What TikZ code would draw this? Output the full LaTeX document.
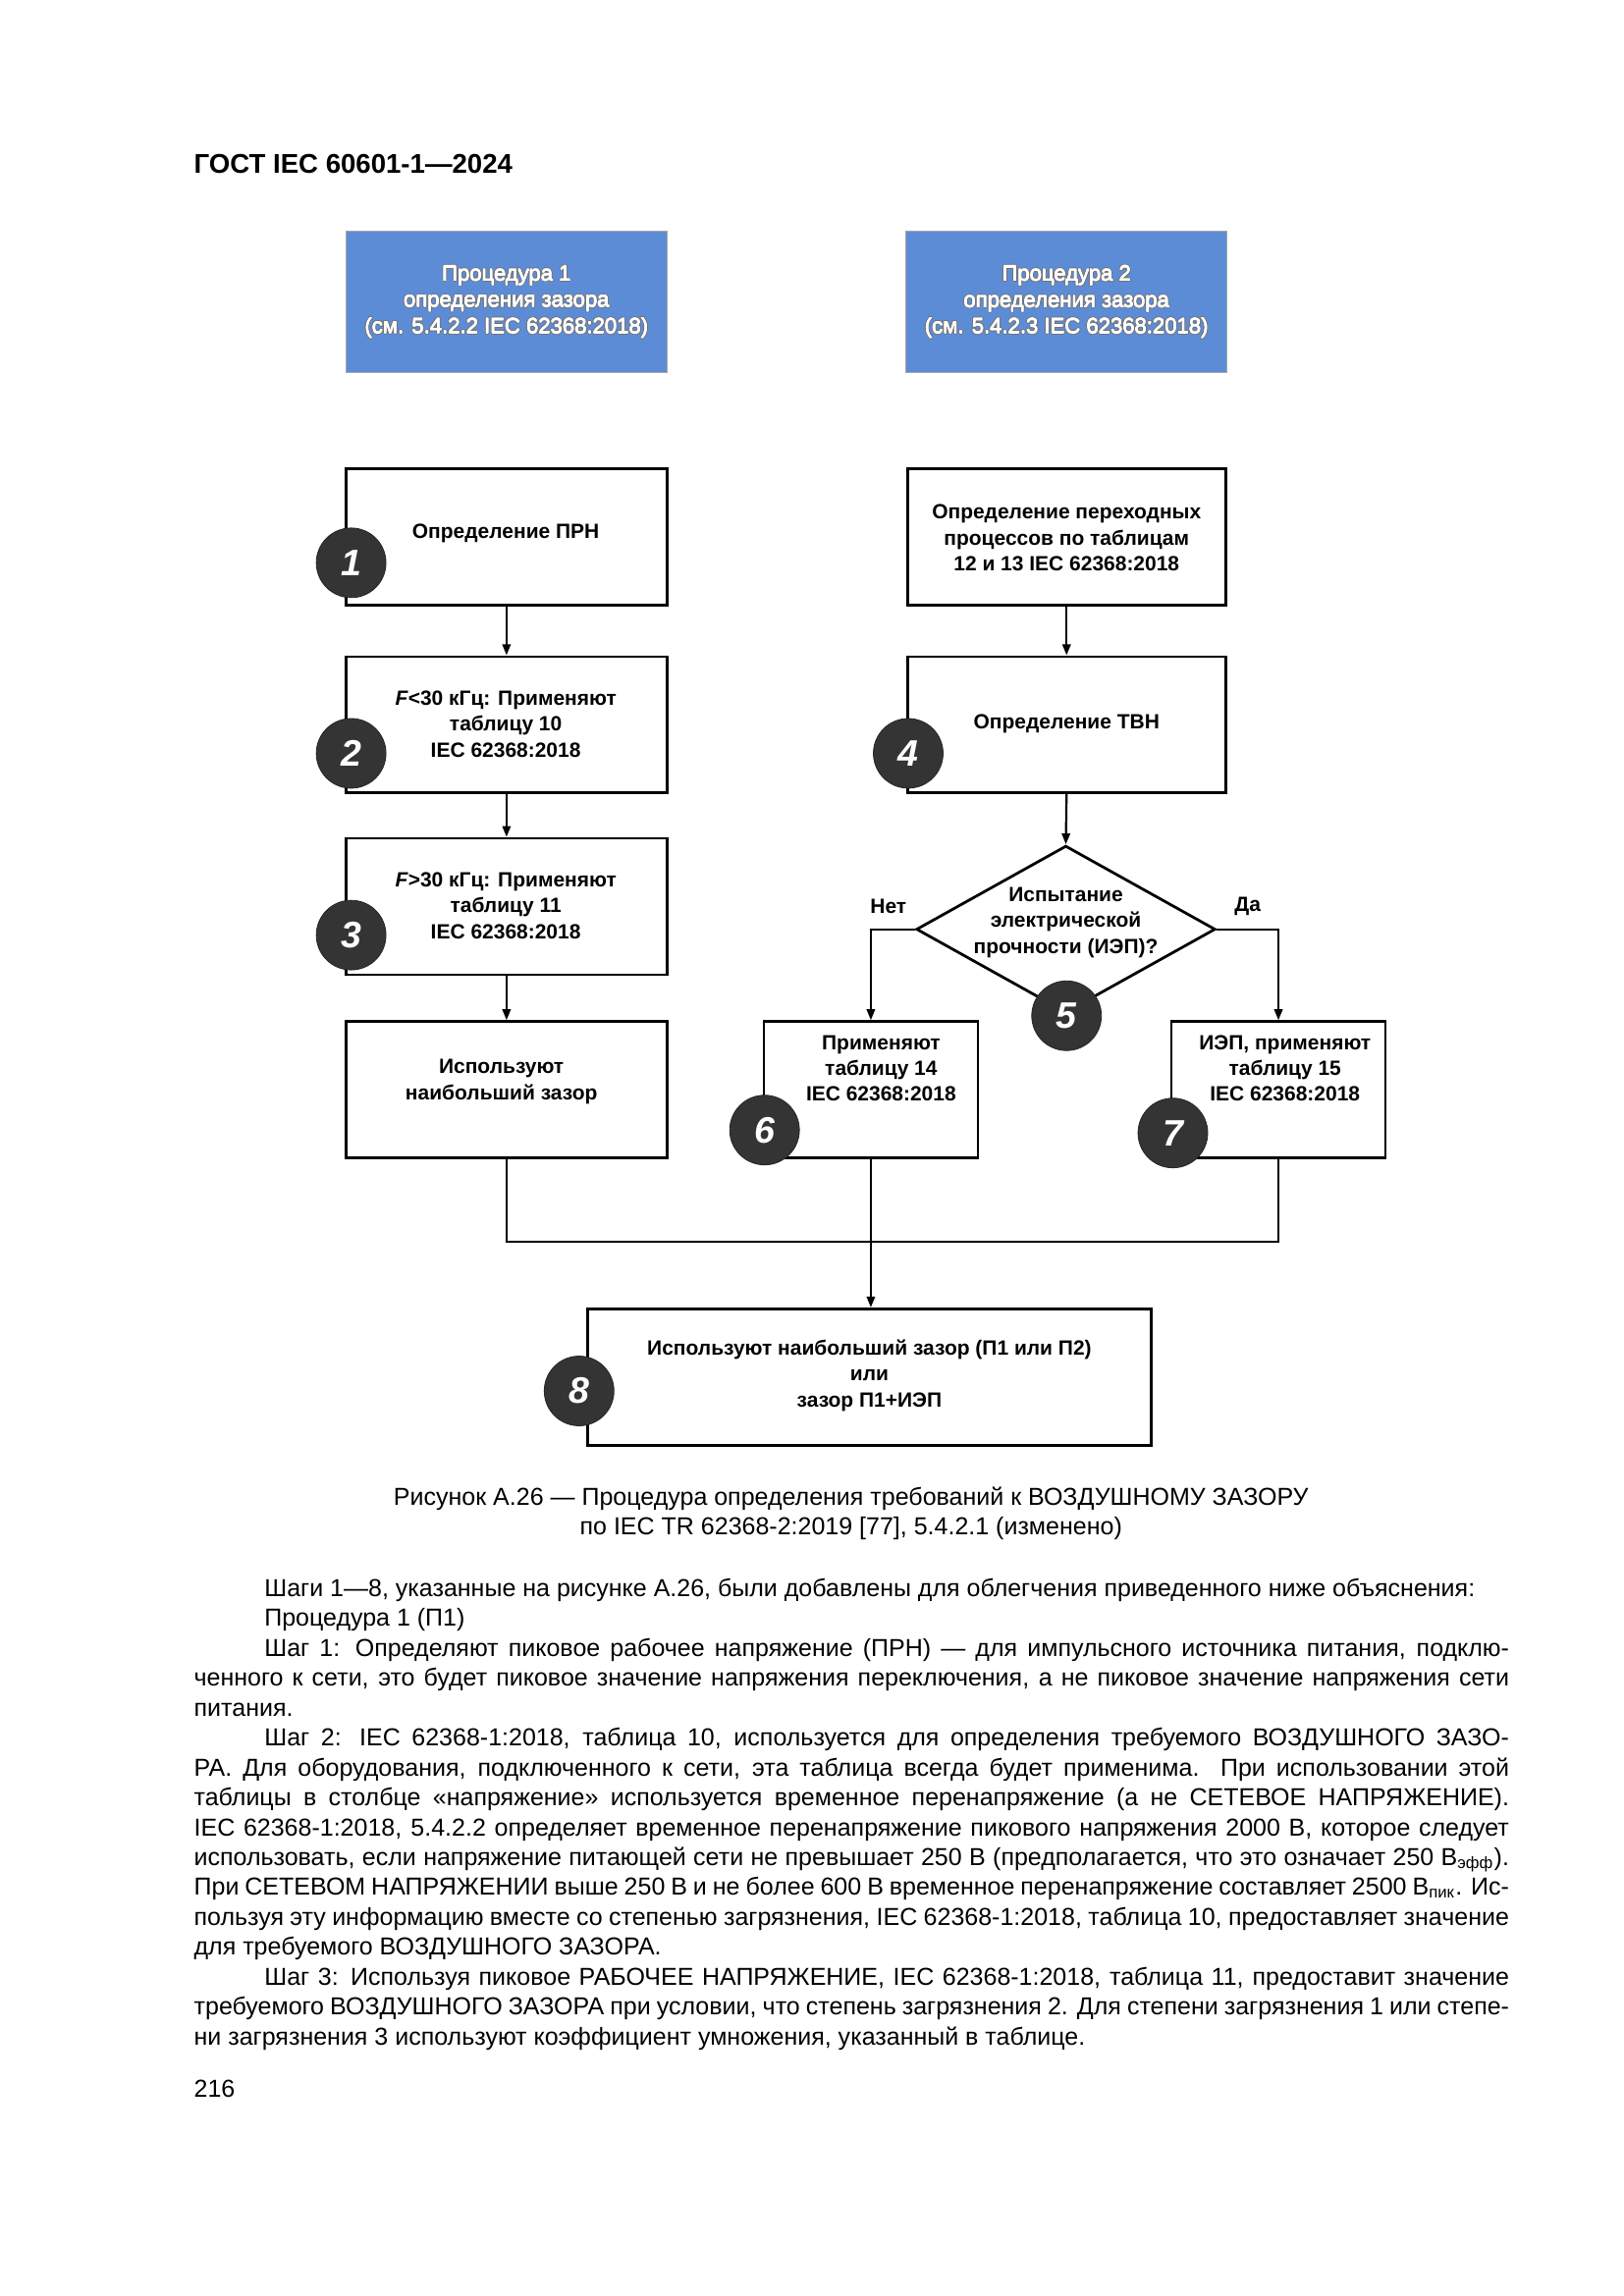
\documentclass[tikz,border=0pt]{standalone}
\usepackage{fontspec}
\setmainfont{Liberation Sans}
\usetikzlibrary{arrows.meta,shapes.geometric}
\definecolor{procblue}{RGB}{93,140,215}
\definecolor{circdark}{RGB}{52,52,52}
\newlength\bw \setlength\bw{482.06pt}
\newcommand\bodyfont{\fontsize{9}{10.96}\selectfont}
\newcommand\bjl[1]{\hbox to \bw{#1}}
\newcommand\bil[1]{\hbox to \bw{\kern25.8pt #1}}
\newcommand\bnl[1]{\hbox{#1}}
\newcommand\binl[1]{\hbox{\kern25.8pt #1}}
\newcommand\outlinetext[3]{%
  \foreach \dx/\dy in {0.45/0,-0.45/0,0/0.45,0/-0.45,0.32/0.32,-0.32/0.32,0.32/-0.32,-0.32/-0.32}{%
    \node[bluetxt, text=black!55, xshift=\dx pt, yshift=\dy pt] at #2 {#3};}%
  \foreach \dx/\dy in {0.12/0,-0.12/0,0/0.12,0/-0.12}{%
    \node[bluetxt, text=white, xshift=\dx pt, yshift=\dy pt] at #2 {#3};}%
  \node[bluetxt, text=white] (#1) at #2 {#3};}
\begin{document}
\begin{tikzpicture}[x=0.53741pt,y=-0.53741pt,
  stepbox/.style={draw=black, line width=1pt, rectangle, inner sep=0pt, minimum height=49.98pt},
  bluebox/.style={fill=procblue, draw=black!35, line width=0.4pt, rectangle, inner sep=0pt, minimum width=117.69pt, minimum height=51.59pt},
  bluetxt/.style={inner sep=0pt, align=center, font=\fontsize{7.95}{9.67}\selectfont},
  ftxt/.style={inner sep=0pt, align=center, font=\fontsize{7.55}{9.45}\selectfont\bfseries},
  cnum/.style={circle, fill=circdark, draw=black!85, line width=0.3pt, minimum size=25.53pt, inner sep=0pt, text=white, font=\fontsize{13.5}{14}\selectfont\bfseries\itshape},
  conn/.style={draw=black, line width=0.8pt},
  arr/.style={conn, -{Triangle[length=4pt,width=3pt]}}]
\fill[white] (0,0) rectangle (1107.7,1566.5);
\useasboundingbox (0,0) rectangle (1107.7,1566.5);

% title
\node[anchor=base west, inner sep=0pt, font=\fontsize{9.93}{12}\selectfont\bfseries] (title) at (132,118) {ГОСТ IEC 60601-1—2024};

% procedure boxes
\node[bluebox] (p1) at (345.5,206) {};
\node[bluebox] (p2) at (727.5,206) {};
\outlinetext{p1t}{(345.5,206)}{Процедура 1\\определения зазора\\(см. 5.4.2.2 IEC 62368:2018)}
\outlinetext{p2t}{(727.5,206)}{Процедура 2\\определения зазора\\(см. 5.4.2.3 IEC 62368:2018)}

% step boxes
\node[stepbox, minimum width=117.69pt] (b1) at (345.5,366.5) {};
\node[stepbox, minimum width=117.69pt] (b2) at (345.5,494.5) {};
\node[stepbox, minimum width=117.69pt] (b3) at (345.5,618.5) {};
\node[stepbox, minimum width=117.69pt] (b4) at (345.5,743.5) {};
\node[stepbox, minimum width=116.62pt] (r1) at (727.5,366.5) {};
\node[stepbox, minimum width=116.62pt] (r2) at (727.5,494.5) {};
\node[diamond, draw=black, line width=1pt, minimum width=109.63pt, minimum height=61.26pt, inner sep=0pt] (dia) at (727,634) {};
\node[stepbox, minimum width=78.46pt] (b6) at (594,743.5) {};
\node[stepbox, minimum width=78.46pt] (b7) at (872,743.5) {};
\node[stepbox, minimum width=206.37pt] (b8) at (593,939.5) {};

% texts
\node[ftxt] (t1) at (345,364) {Определение ПРН};
\node[ftxt] (t2) at (345,494) {\textit{F}<30 кГц: Применяют\\таблицу 10\\IEC 62368:2018};
\node[ftxt] (t3) at (345,618) {\textit{F}>30 кГц: Применяют\\таблицу 11\\IEC 62368:2018};
\node[ftxt] (t4) at (342,738) {Используют\\наибольший зазор};
\node[ftxt] (r1t) at (727.5,367) {Определение переходных\\процессов по таблицам\\12 и 13 IEC 62368:2018};
\node[ftxt] (r2t) at (727.5,494) {Определение ТВН};
\node[ftxt] (diat) at (727,629.5) {Испытание\\электрической\\прочности (ИЭП)?};
\node[ftxt] (t6) at (601,729) {Применяют\\таблицу 14\\IEC 62368:2018};
\node[ftxt] (t7) at (876.5,729) {ИЭП, применяют\\таблицу 15\\IEC 62368:2018};
\node[ftxt] (t8) at (593,938.5) {Используют наибольший зазор (П1 или П2)\\или\\зазор П1+ИЭП};
\node[ftxt] (no) at (606,618.5) {Нет};
\node[ftxt] (yes) at (851,618.5) {Да};

% connectors
\draw[arr] (b1.south) -- (b2.north);
\draw[arr] (b2.south) -- (b3.north);
\draw[arr] (b3.south) -- (b4.north);
\draw[arr] (r1.south) -- (r2.north);
\draw[arr] (r2.south) -- (dia.north);
\draw[arr] (dia.west) -| (b6.north);
\draw[arr] (dia.east) -| (b7.north);
\coordinate (mj) at (594,847);
\draw[conn] (b4.south) |- (mj) -| (b7.south);
\draw[arr] (b6.south) -- (b6.south |- b8.north);

% step numbers
\node[cnum] (c1) at (239.5,384) {1};
\node[cnum] (c2) at (239.5,514) {2};
\node[cnum] (c3) at (239.5,638) {3};
\node[cnum] (c4) at (619.5,514) {4};
\node[cnum] (c5) at (727.5,693) {5};
\node[cnum] (c6) at (521.5,771) {6};
\node[cnum] (c7) at (800,773) {7};
\node[cnum] (c8) at (395,949) {8};

% caption
\node[anchor=base, inner sep=0pt, font=\fontsize{9}{11}\selectfont] (cap1) at (580.5,1027) {Рисунок А.26 — Процедура определения требований к ВОЗДУШНОМУ ЗАЗОРУ};
\node[anchor=base, inner sep=0pt, font=\fontsize{9}{11}\selectfont] (cap2) at (580.5,1047) {по IEC TR 62368-2:2019 [77], 5.4.2.1 (изменено)};

% body text
\node[anchor=north west, inner sep=0pt] (body) at (132,1074.6) {\vbox{\bodyfont\hsize=\bw\baselineskip=10.96pt\lineskiplimit=-20pt
\binl{\strut Шаги 1—8, указанные на рисунке А.26, были добавлены для облегчения приведенного ниже объяснения:}
\binl{Процедура 1 (П1)}
\bil{Шаг 1: Определяют пиковое рабочее напряжение (ПРН) — для импульсного источника питания, подклю-}
\bjl{ченного к сети, это будет пиковое значение напряжения переключения, а не пиковое значение напряжения сети}
\bnl{питания.}
\bil{Шаг 2: IEC 62368-1:2018, таблица 10, используется для определения требуемого ВОЗДУШНОГО ЗАЗО-}
\bjl{РА. Для оборудования, подключенного к сети, эта таблица всегда будет применима. При использовании этой}
\bjl{таблицы в столбце «напряжение» используется временное перенапряжение (а не СЕТЕВОЕ НАПРЯЖЕНИЕ).}
\bjl{IEC 62368-1:2018, 5.4.2.2 определяет временное перенапряжение пикового напряжения 2000 В, которое следует}
\bjl{использовать, если напряжение питающей сети не превышает 250 В (предполагается, что это означает 250 В\textsubscript{эфф}).}
\bjl{При СЕТЕВОМ НАПРЯЖЕНИИ выше 250 В и не более 600 В временное перенапряжение составляет 2500 В\textsubscript{пик}. Ис-}
\bjl{пользуя эту информацию вместе со степенью загрязнения, IEC 62368-1:2018, таблица 10, предоставляет значение}
\bnl{для требуемого ВОЗДУШНОГО ЗАЗОРА.}
\bil{Шаг 3: Используя пиковое РАБОЧЕЕ НАПРЯЖЕНИЕ, IEC 62368-1:2018, таблица 11, предоставит значение}
\bjl{требуемого ВОЗДУШНОГО ЗАЗОРА при условии, что степень загрязнения 2. Для степени загрязнения 1 или степе-}
\bnl{ни загрязнения 3 используют коэффициент умножения, указанный в таблице.}
}};

% page number
\node[anchor=base west, inner sep=0pt, font=\bodyfont] (pg) at (132,1431) {216};
\end{tikzpicture}
\end{document}
